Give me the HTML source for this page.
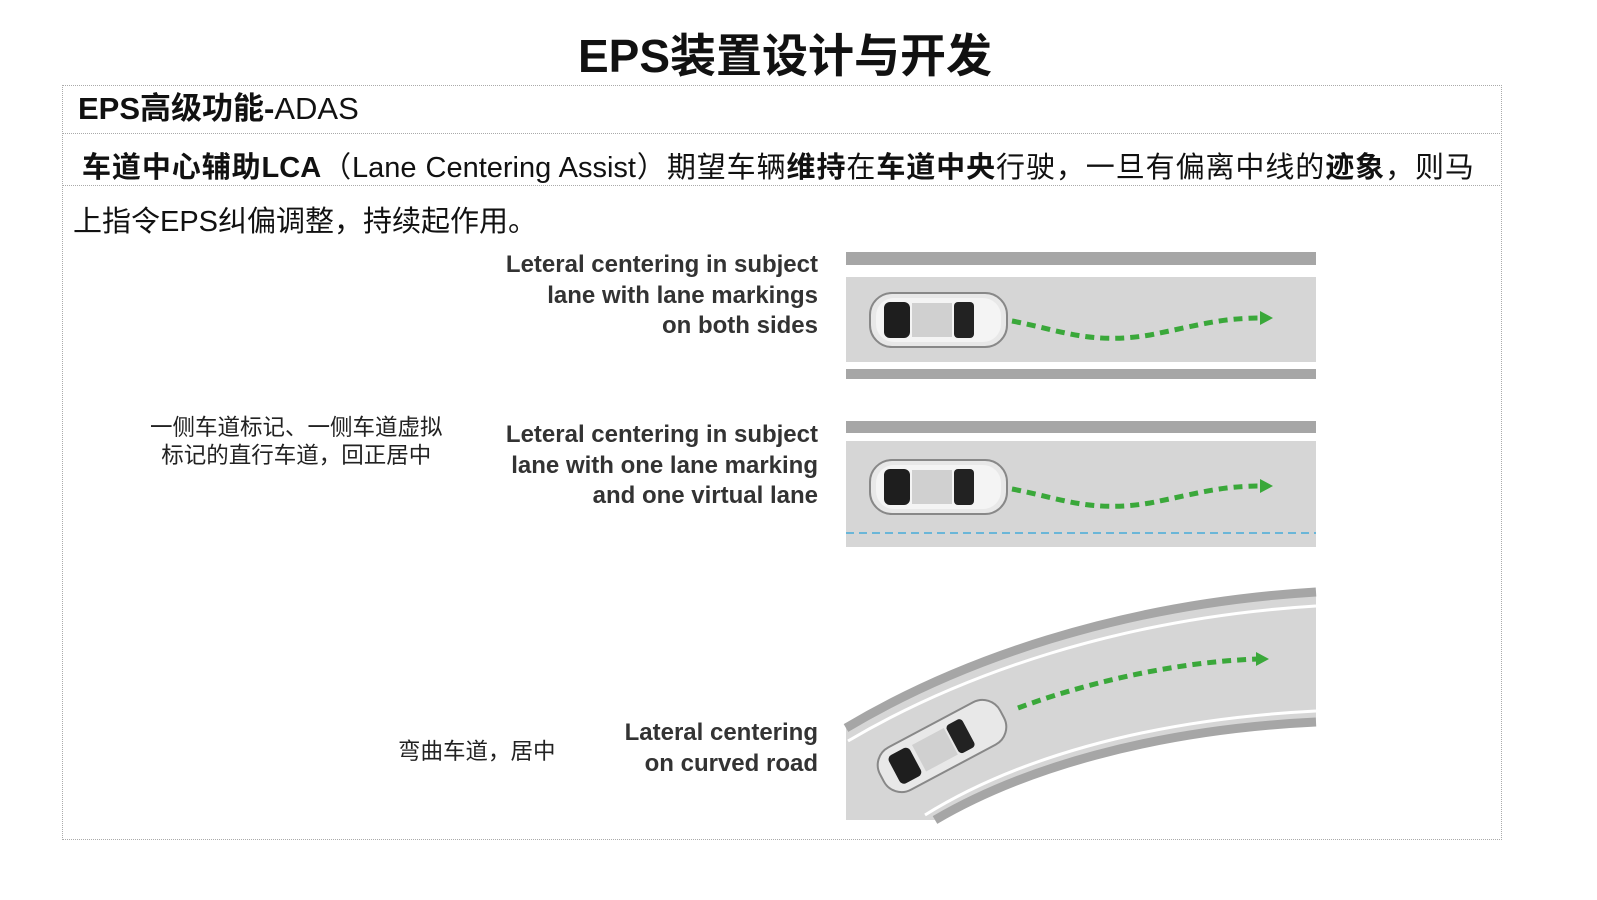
<!DOCTYPE html>
<html><head><meta charset="utf-8"><style>
body{margin:0;width:1597px;height:900px;background:#fff;position:relative;overflow:hidden;font-family:"Liberation Sans","Noto Sans CJK SC",sans-serif;color:#111}
.a{position:absolute;white-space:nowrap}
.box{position:absolute;left:62px;top:85px;width:1440px;height:755px;border:1.5px dotted #aaa;box-sizing:border-box}
.hl{position:absolute;left:62px;width:1440px;border-top:1.5px dotted #aaa}
.en{position:absolute;right:779px;text-align:right;font-weight:bold;font-size:24px;line-height:30.5px;color:#333;white-space:nowrap}
.cn{position:absolute;font-size:22.5px;line-height:28px;color:#222;white-space:nowrap;text-align:center}
</style></head><body>
<div class="a" style="left:0;width:1570px;text-align:center;top:26px;font-size:46px;font-weight:bold;line-height:60px">EPS装置设计与开发</div>
<div class="box"></div>
<div class="hl" style="top:133px"></div>
<div class="hl" style="top:185px"></div>
<div class="a" style="left:78px;top:88px;font-size:31px;line-height:42px"><b>EPS高级功能-</b>ADAS</div>
<div class="a" style="left:82px;top:148px;width:1392px;font-size:29px;line-height:40px;text-align:justify;text-align-last:justify"><b>车道中心辅助LCA</b>（Lane Centering Assist）期望车辆<b>维持</b>在<b>车道中央</b>行驶，一旦有偏离中线的<b>迹象</b>，则马</div>
<div class="a" style="left:73px;top:202px;font-size:29px;line-height:40px">上指令EPS纠偏调整，持续起作用。</div>

<div class="en" style="top:250px">Leteral centering in subject<br>lane with lane markings<br>on both sides</div>
<div class="en" style="top:420px">Leteral centering in subject<br>lane with one lane marking<br>and one virtual lane</div>
<div class="en" style="top:718px">Lateral centering<br>on curved road</div>
<div class="cn" style="left:150px;top:414px">一侧车道标记、一侧车道虚拟<br>标记的直行车道，回正居中</div>
<div class="cn" style="left:398px;top:738px">弯曲车道，居中</div>

<svg class="a" style="left:0;top:0" width="1597" height="900">
<defs>
<g id="car">
<rect x="0" y="0" width="137" height="54" rx="22" fill="#e8e8e8" stroke="#888" stroke-width="2"/>
<rect x="6" y="5" width="125" height="44" rx="18" fill="#f4f4f4"/>
<rect x="14" y="9" width="26" height="36" rx="6" fill="#1e1e1e"/>
<rect x="42" y="10" width="40" height="34" fill="#d0d0d0"/>
<rect x="84" y="9" width="20" height="36" rx="4" fill="#222"/>
</g>
</defs>
<rect x="846" y="252" width="470" height="13" fill="#a6a6a6"/>
<rect x="846" y="277" width="470" height="85" fill="#d6d6d6"/>
<rect x="846" y="369" width="470" height="10" fill="#a6a6a6"/>
<use href="#car" x="870" y="293"/>
<path d="M1012 321 C1060 330 1090 345 1150 335 C1200 325 1220 318 1262 318" fill="none" stroke="#3aa83a" stroke-width="5" stroke-dasharray="9,6"/>
<path d="M1260 311 L1273 318 L1260 325Z" fill="#3aa83a"/>
<rect x="846" y="421" width="470" height="12" fill="#a6a6a6"/>
<rect x="846" y="441" width="470" height="106" fill="#d6d6d6"/>
<line x1="846" y1="533" x2="1316" y2="533" stroke="#6ab6d8" stroke-width="2" stroke-dasharray="8,5"/>
<use href="#car" x="870" y="460"/>
<path d="M1012 489 C1060 498 1090 513 1150 503 C1200 493 1220 486 1262 486" fill="none" stroke="#3aa83a" stroke-width="5" stroke-dasharray="9,6"/>
<path d="M1260 479 L1273 486 L1260 493Z" fill="#3aa83a"/>
<path d="M846 728 C960 660 1120 604 1316 592 L1316 722 C1150 730 1020 770 935 820 L846 820Z" fill="#d6d6d6"/>
<path d="M846 728 C960 660 1120 604 1316 592" fill="none" stroke="#a6a6a6" stroke-width="9"/>
<path d="M848 741 C960 675 1120 618 1316 606" fill="none" stroke="#fff" stroke-width="3"/>
<path d="M935 820 C1020 770 1150 730 1316 722" fill="none" stroke="#a6a6a6" stroke-width="9"/>
<path d="M925 815 C1010 762 1140 720 1316 711" fill="none" stroke="#fff" stroke-width="3"/>
<g transform="translate(942 746) rotate(-28) translate(-68 -24)">
<rect x="0" y="0" width="136" height="48" rx="20" fill="#e8e8e8" stroke="#888" stroke-width="2"/>
<rect x="14" y="8" width="24" height="32" rx="5" fill="#1e1e1e"/>
<rect x="42" y="9" width="36" height="30" fill="#d0d0d0"/>
<rect x="80" y="8" width="18" height="32" rx="4" fill="#222"/>
</g>
<path d="M1018 708 C1080 685 1170 662 1258 659" fill="none" stroke="#3aa83a" stroke-width="5" stroke-dasharray="9,6"/>
<path d="M1256 652 L1269 659 L1256 666Z" fill="#3aa83a"/>
</svg>
</body></html>
